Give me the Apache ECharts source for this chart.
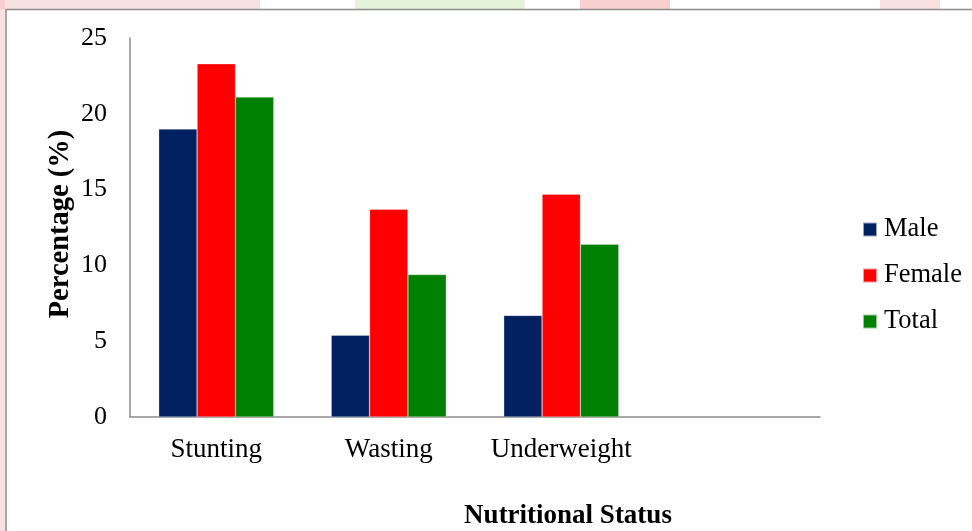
<!DOCTYPE html>
<html>
<head>
<meta charset="utf-8">
<script src="https://cdn.jsdelivr.net/npm/echarts@6/dist/echarts.min.js"></script>
<style>
  html, body { margin: 0; padding: 0; background: #fff; }
  #chart { width: 972px; height: 531px; }
</style>
</head>
<body>
<div id="chart"></div>
<script>
// Nutritional status prevalence by sex
const categories = ['Stunting', 'Wasting', 'Underweight', ''];
const maleValues = [19.0, 5.4, 6.7, null];
const femaleValues = [23.3, 13.7, 14.7, null];
const totalValues = [21.1, 9.4, 11.4, null];
const yTicks = { min: 0, max: 25, interval: 5 };

const serif = '"Liberation Serif", "Times New Roman", serif';
const chart = echarts.init(document.getElementById('chart'));

function barSeries(name, data, color) {
  return {
    name: name,
    type: 'bar',
    data: data,
    barGap: '0%',
    barCategoryGap: '33.3%',
    itemStyle: { color: color, borderColor: 'rgba(255,255,255,0.6)', borderWidth: 0.5 },
    emphasis: { disabled: true }
  };
}

chart.setOption({
  animation: false,
  backgroundColor: '#ffffff',
  grid: { left: 130, right: 152, top: 38, bottom: 114 },
  graphic: [
    // faint watermark tint outside the frame
    { type: 'rect', shape: { x: 0, y: 0, width: 5, height: 531 }, style: { fill: 'rgba(240,170,170,0.35)' }, silent: true },
    { type: 'rect', shape: { x: 0, y: 0, width: 260, height: 9 }, style: { fill: 'rgba(240,170,170,0.35)' }, silent: true },
    { type: 'rect', shape: { x: 355, y: 0, width: 170, height: 9 }, style: { fill: 'rgba(190,225,170,0.4)' }, silent: true },
    { type: 'rect', shape: { x: 580, y: 0, width: 90, height: 9 }, style: { fill: 'rgba(240,150,150,0.45)' }, silent: true },
    { type: 'rect', shape: { x: 880, y: 0, width: 60, height: 9 }, style: { fill: 'rgba(240,180,180,0.4)' }, silent: true },
    // chart frame
    { type: 'rect', shape: { x: 6, y: 9.5, width: 980, height: 540 }, style: { fill: 'none', stroke: '#8c8c8c', lineWidth: 1.5 }, silent: true },
    // axis titles
    {
      type: 'text', silent: true,
      style: {
        text: 'Nutritional Status', x: 568, y: 516,
        fill: '#000', font: 'bold 27px ' + serif,
        textAlign: 'center', textVerticalAlign: 'middle'
      }
    },
    {
      type: 'text', silent: true,
      x: 61, y: 224, rotation: Math.PI / 2,
      style: {
        text: 'Percentage (%)', x: 0, y: 0,
        fill: '#000', font: 'bold 28.5px ' + serif,
        textAlign: 'center', textVerticalAlign: 'middle'
      }
    }
  ],
  legend: {
    orient: 'vertical',
    left: 862,
    top: 216,
    padding: 0,
    itemWidth: 14,
    itemHeight: 14,
    itemGap: 19,
    icon: 'rect',
    textStyle: { fontFamily: serif, fontSize: 26.5, color: '#000', padding: [0, 0, 0, 2] },
    data: ['Male', 'Female', 'Total']
  },
  xAxis: {
    type: 'category',
    data: categories,
    axisLine: { lineStyle: { color: '#8c8c8c', width: 1.5 } },
    axisTick: { show: false },
    axisLabel: { color: '#000', fontFamily: serif, fontSize: 27, margin: 19, interval: 0 },
    splitLine: { show: false }
  },
  yAxis: {
    type: 'value',
    min: yTicks.min,
    max: yTicks.max,
    interval: yTicks.interval,
    axisLine: { show: true, lineStyle: { color: '#8c8c8c', width: 1.5 } },
    axisTick: { show: false },
    axisLabel: { color: '#000', fontFamily: serif, fontSize: 26, margin: 23 },
    splitLine: { show: false }
  },
  series: [
    barSeries('Male', maleValues, '#002060'),
    barSeries('Female', femaleValues, '#ff0000'),
    barSeries('Total', totalValues, '#008000')
  ]
});
</script>
</body>
</html>
